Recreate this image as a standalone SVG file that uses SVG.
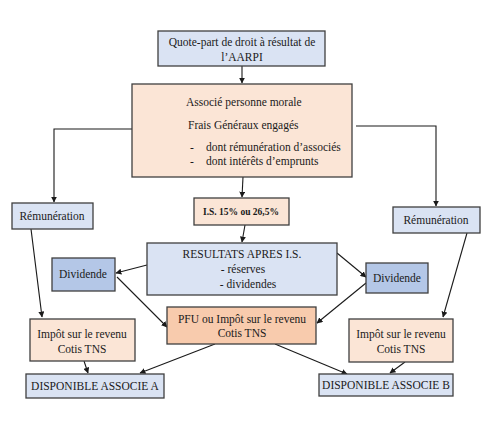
<svg xmlns="http://www.w3.org/2000/svg" width="500" height="429" viewBox="0 0 500 429">
<style>
.n{stroke:#3f3f3f;stroke-width:1.3}
.b{fill:#dae3f3}
.d{fill:#b4c7e7}
.p{fill:#fbe5d6}
.o{fill:#f8cbad}
text{font-family:"Liberation Serif","DejaVu Serif",serif;font-size:11.5px;fill:#1a1a1a}
.c{text-anchor:middle}
.bold{font-weight:bold;font-size:9.5px}
#connectors path{fill:none;stroke:#1a1a1a;stroke-width:1.1;marker-end:url(#ah)}
</style>
<defs>
<marker id="ah" viewBox="0 0 10 10" refX="9" refY="5" markerWidth="6" markerHeight="6" markerUnits="userSpaceOnUse" orient="auto"><path d="M0,0 L10,5 L0,10 z" fill="#1a1a1a"/></marker>
</defs>
<rect width="500" height="429" fill="#fff"/>
<g id="connectors">
<path d="M242,66 L242,83"/>
<path d="M132,129 L54,129 L54,202"/>
<path d="M356,126 L436,126 L436,206"/>
<path d="M243,177 L242,197"/>
<path d="M245,225 L242,242"/>
<path d="M147,265 L116,273"/>
<path d="M337,253 L366,277"/>
<path d="M117,277 L167,327"/>
<path d="M366,283 L317,323"/>
<path d="M31,229 L42,317"/>
<path d="M467,233 L443,317"/>
<path d="M84,361 L88,373"/>
<path d="M215,344 L140,373"/>
<path d="M275,344 L347,374"/>
<path d="M405,362 L390,373"/>
</g>
<g id="n-quote"><rect class="n b" x="158" y="31" width="167" height="35"/>
<text class="c" x="242" y="46">Quote-part de droit à résultat de</text>
<text class="c" x="242" y="61">l’AARPI</text></g>
<g id="n-associe"><rect class="n p" x="132" y="84" width="220" height="93"/>
<text x="186" y="106">Associé personne morale</text>
<text x="188" y="129">Frais Généraux engagés</text>
<text x="190" y="151">-</text><text x="206" y="151">dont rémunération d’associés</text>
<text x="190" y="165">-</text><text x="206" y="165">dont intérêts d’emprunts</text></g>
<g id="n-rem-a"><rect class="n b" x="12" y="203" width="81" height="26"/>
<text class="c" x="52" y="220">Rémunération</text></g>
<g id="n-rem-b"><rect class="n b" x="393" y="207" width="87" height="26"/>
<text class="c" x="436" y="224">Rémunération</text></g>
<g id="n-is"><rect class="n p" x="194" y="198" width="95" height="27"/>
<text class="c bold" x="241" y="215">I.S. 15% ou 26,5%</text></g>
<g id="n-resultats"><rect class="n b" x="147" y="243" width="190" height="52"/>
<text class="c" x="242" y="258">RESULTATS APRES I.S.</text>
<text class="c" x="243" y="273">- réserves</text>
<text class="c" x="248" y="288">- dividendes</text></g>
<g id="n-div-a"><rect class="n d" x="52" y="258" width="63" height="33"/>
<text class="c" x="83" y="278">Dividende</text></g>
<g id="n-div-b"><rect class="n d" x="366" y="263" width="62" height="30"/>
<text class="c" x="397" y="282">Dividende</text></g>
<g id="n-impot-a"><rect class="n p" x="30" y="319" width="105" height="42"/>
<text class="c" x="82" y="338">Impôt sur le revenu</text>
<text class="c" x="82" y="353">Cotis TNS</text></g>
<g id="n-pfu"><rect class="n o" x="167" y="307" width="149" height="37"/>
<text class="c" x="242" y="323">PFU ou Impôt sur le revenu</text>
<text class="c" x="242" y="337">Cotis TNS</text></g>
<g id="n-impot-b"><rect class="n p" x="349" y="319" width="104" height="43"/>
<text class="c" x="401" y="338">Impôt sur le revenu</text>
<text class="c" x="401" y="353">Cotis TNS</text></g>
<g id="n-dispo-a"><rect class="n b" x="26" y="374" width="138" height="24"/>
<text class="c" x="95" y="390">DISPONIBLE ASSOCIE A</text></g>
<g id="n-dispo-b"><rect class="n b" x="319" y="374" width="134" height="22"/>
<text class="c" x="386" y="389">DISPONIBLE ASSOCIE B</text></g>
</svg>
